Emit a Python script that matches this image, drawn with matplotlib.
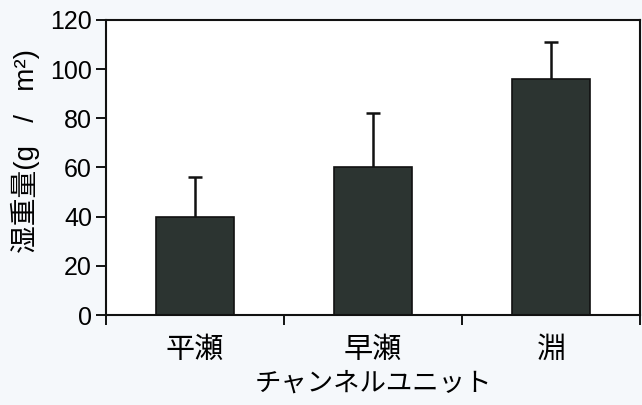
import matplotlib.pyplot as plt
import numpy as np

plt.rcParams['font.family'] = ['Liberation Sans', 'Noto Sans CJK JP', 'DejaVu Sans']

# data
units = ["平瀬", "早瀬", "淵"]
wet_weight = [40, 60, 96]
err_upper = [16, 22, 15]

fig = plt.figure(figsize=(6.42, 4.05), dpi=100, facecolor="#f5f8fb")
ax = fig.add_axes([0.165, 0.222, 0.832, 0.729])
ax.set_facecolor("white")

x = np.arange(len(units))
ax.bar(x, wet_weight, width=0.44, color="#2c3431", edgecolor="#111111", linewidth=1.2, zorder=2)
eb = ax.errorbar(x, wet_weight, yerr=[np.zeros(len(units)), err_upper], fmt='none',
                 ecolor="#111111", elinewidth=1.8, capsize=5, capthick=1.8, zorder=1)
# only the upper cap is drawn in the original
eb[1][0].set_visible(False)

ax.set_xlim(-0.5, len(units) - 0.5)
ax.set_ylim(0, 120)
ax.set_yticks(range(0, 121, 20))
ax.set_xticks(x)
ax.set_xticklabels(units, fontfamily=['Noto Sans CJK JP'], fontsize=21)
ax.set_xticks(np.arange(-0.5, len(units), 1), minor=True)
ax.tick_params(axis='x', which='major', length=0, pad=14)
ax.tick_params(axis='x', which='minor', length=7, width=1.3, direction='out')
ax.tick_params(axis='y', length=7, width=1.3, direction='out', labelsize=18, pad=3)

for s in ax.spines.values():
    s.set_linewidth(1.5)
    s.set_color("#111111")

ax.set_xlabel("チャンネルユニット", fontfamily=['Noto Sans CJK JP'], fontsize=19, labelpad=4)
ax.set_ylabel("湿重量(g   /   m²)", fontsize=20)
ax.yaxis.set_label_coords(-0.124, 0.556)

fig.savefig("out.png", dpi=100, facecolor=fig.get_facecolor())
